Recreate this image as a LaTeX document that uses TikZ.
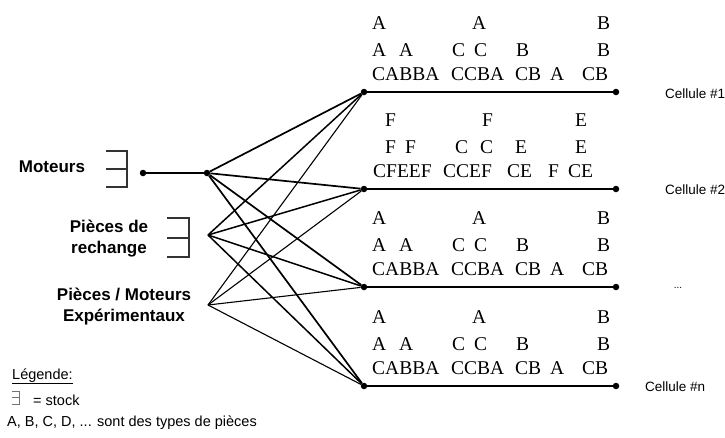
\documentclass[tikz,border=0pt]{standalone}
\usepackage{fontspec}
\setmainfont{Liberation Serif}
\setsansfont{Liberation Sans}

\tikzset{
  src/.style={font=\sffamily\bfseries\fontsize{17}{21}\selectfont, align=center, inner sep=0pt},
  cellname/.style={font=\sffamily\fontsize{13.5}{16}\selectfont, anchor=west, inner sep=0pt},
  pile/.style={font=\fontsize{19.5}{20}\selectfont, anchor=base west, inner sep=0pt},
  legendtxt/.style={font=\sffamily\fontsize{14.5}{16}\selectfont, anchor=base west, inner sep=0pt},
  dot/.style={circle, fill=black, inner sep=0pt, minimum size=6.5pt},
  link/.style={line width=1.5pt},
  cellline/.style={line width=2.4pt},
  bracket/.style={line width=1.1pt, black!80},
}

% stacks of parts A/B/C above a cell line (#1 = name prefix, #2 = line height)
\newcommand\pilesABC[2]{%
  \foreach \x/\t [count=\i] in {372/A,472/A,597/B}
    \node[pile] (#1-a\i) at (\x,#2-63) {\t};
  \foreach \x/\t [count=\i] in {372/A,399/A,452/C,474/C,516/B,597/B}
    \node[pile] (#1-b\i) at (\x,#2-36) {\t};
  \foreach \x/\t [count=\i] in {372/CABBA,451/CCBA,515/CB,550/A,582/CB}
    \node[pile] (#1-c\i) at (\x,#2-12) {\t};
}
% stacks of parts C/E/F above a cell line
\newcommand\pilesCEF[2]{%
  \foreach \x/\t [count=\i] in {385/F,482/F,575/E}
    \node[pile] (#1-a\i) at (\x,#2-63) {\t};
  \foreach \x/\t [count=\i] in {385/F,405/F,455/C,480/C,515/E,575/E}
    \node[pile] (#1-b\i) at (\x,#2-36) {\t};
  \foreach \x/\t [count=\i] in {373/CFEEF,443/CCEF,507/CE,548/F,568/CE}
    \node[pile] (#1-c\i) at (\x,#2-12) {\t};
}

\begin{document}
\begin{tikzpicture}[x=1pt,y=-1pt]
\useasboundingbox (0,0) rectangle (725,437);

% sources
\node[src] (mot) at (52,167) {Moteurs};
\node[src] (rech) at (109,238.5) {Pièces de\\rechange};
\node[src] (exp) at (124,307) {Pièces / Moteurs\\Expérimentaux};

% stock brackets
\draw[bracket] (106,151) -- (127,151) -- (127,187) -- (106,187) (106,169) -- (127,169);
\draw[bracket] (167,218) -- (189,218) -- (189,257) -- (167,257) (167,238) -- (189,238);

% hubs
\node[dot] (m0) at (143,173) {};
\node[dot] (hm) at (207,173) {};
\coordinate (hr) at (208,235);
\coordinate (he) at (208,305);
\draw[link] (m0) -- (hm);

% cells
\foreach \n/\y in {c1/92,c2/189,c3/287,cn/386}{
  \node[dot] (\n l) at (364,\y) {};
  \node[dot] (\n r) at (616,\y) {};
  \draw[cellline] (\n l) -- (\n r);
}

% flows from every source to every cell
\foreach \n in {c1,c2,c3,cn}{
  \draw[link, line width=1.7pt] (hm) -- (\n l);
  \draw[link] (hr) -- (\n l);
  \draw[link, line width=1.1pt] (he) -- (\n l);
}

% parts waiting in each cell
\pilesABC{p1}{92}
\pilesCEF{p2}{189}
\pilesABC{p3}{287}
\pilesABC{pn}{386}

% cell names
\node[cellname] (n1) at (665,94) {Cellule \#1};
\node[cellname] (n2) at (665,190) {Cellule \#2};
\node[font=\sffamily\fontsize{10}{12}\selectfont, inner sep=0pt] (n3) at (678,288) {...};
\node[cellname] (nn) at (645,387) {Cellule \#n};

% legend
\node[legendtxt] (leg) at (12,379) {\underline{Légende:}};
\draw[line width=0.7pt, black!55] (12,391) -- (19,391) -- (19,404) -- (12,404) (12,397.5) -- (19,397.5);
\node[legendtxt] (stk) at (33,405) {= stock};
\node[legendtxt] (typ) at (7,426) {A, B, C, D, ... sont des types de pièces};
\end{tikzpicture}
\end{document}
